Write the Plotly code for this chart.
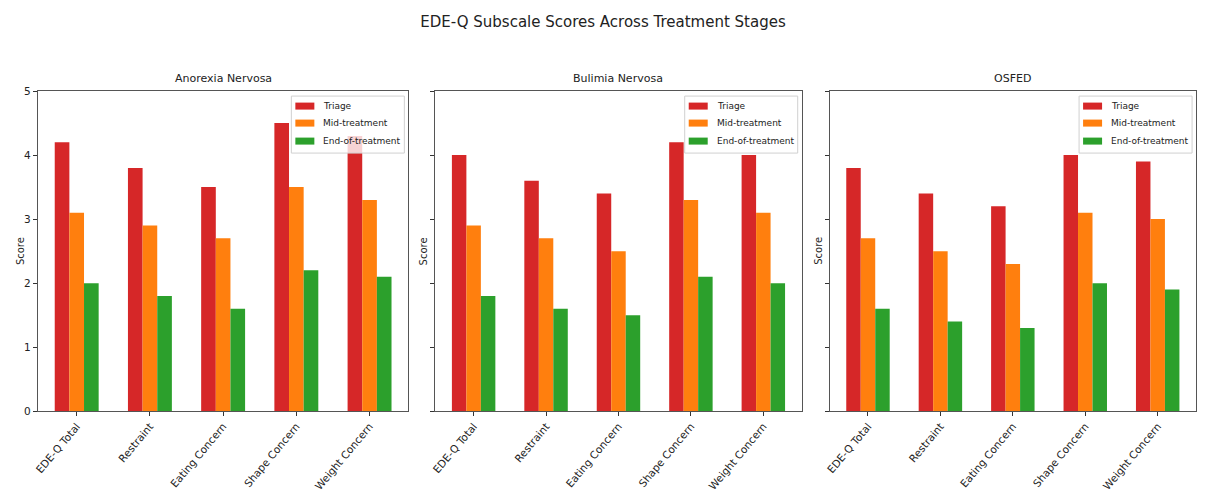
import plotly.graph_objects as go

categories = ["EDE-Q Total", "Restraint", "Eating Concern", "Shape Concern", "Weight Concern"]
panels = ["Anorexia Nervosa", "Bulimia Nervosa", "OSFED"]
stages = ["Triage", "Mid-treatment", "End-of-treatment"]
colors = ["#d62728", "#ff7f0e", "#2ca02c"]

an_triage = [4.2, 3.8, 3.5, 4.5, 4.3]
an_mid = [3.1, 2.9, 2.7, 3.5, 3.3]
an_end = [2.0, 1.8, 1.6, 2.2, 2.1]

bn_triage = [4.0, 3.6, 3.4, 4.2, 4.0]
bn_mid = [2.9, 2.7, 2.5, 3.3, 3.1]
bn_end = [1.8, 1.6, 1.5, 2.1, 2.0]

os_triage = [3.8, 3.4, 3.2, 4.0, 3.9]
os_mid = [2.7, 2.5, 2.3, 3.1, 3.0]
os_end = [1.6, 1.4, 1.3, 2.0, 1.9]

data = [
    [an_triage, an_mid, an_end],
    [bn_triage, bn_mid, bn_end],
    [os_triage, os_mid, os_end],
]

W, H = 1206, 497
OFF = 8  # page body offset
FONT = "DejaVu Sans"


def px(p):
    return (p - OFF) / W


def py(q):
    return 1 - (q - OFF) / H


xpix = [(33, 405), (432, 800), (828, 1196)]
xdomains = [(px(a), px(b)) for a, b in xpix]
ydom = (py(415), py(87))
score_x = [15, 420, 816]

fig = go.Figure()
layout = dict(
    width=W, height=H,
    margin=dict(l=0, r=0, t=0, b=0),
    paper_bgcolor="white", plot_bgcolor="white",
    barmode="group", bargap=0.4, bargroupgap=0,
    showlegend=False,
    font=dict(family=FONT, size=10, color="#222"),
    title=dict(text="EDE-Q Subscale Scores Across Treatment Stages",
               x=px(603), xanchor="center", y=py(22), yanchor="middle",
               font=dict(family=FONT, size=15, color="#222")),
    annotations=[],
    shapes=[],
)

# legend geometry (pixels relative to the top-right corner of each panel)
LEG_BOX = (-117, -4, -5, -62)
LEG_SYM = (-113, -94)
LEG_ROWS = [-15, -32, -50]
LEG_TEXT = -87

for i, panel in enumerate(panels):
    suf = "" if i == 0 else str(i + 1)
    for j, stage in enumerate(stages):
        fig.add_trace(go.Bar(
            x=list(range(len(categories))), y=data[i][j], name=stage,
            marker=dict(color=colors[j], line=dict(width=0)),
            xaxis="x" + suf, yaxis="y" + suf, showlegend=False,
            offsetgroup=str(j),
        ))
    layout["xaxis" + suf] = dict(
        domain=list(xdomains[i]), anchor="y" + suf,
        range=[-0.53, 4.53], tickmode="array",
        tickvals=list(range(len(categories))), ticktext=categories,
        tickangle=-50, ticks="outside", ticklen=4, tickcolor="#333",
        showline=True, linecolor="#555", linewidth=1, mirror=True,
        showgrid=False, zeroline=False,
        tickfont=dict(family=FONT, size=10.5, color="#222"),
    )
    layout["yaxis" + suf] = dict(
        domain=list(ydom), anchor="x" + suf,
        range=[0, 5], dtick=1, ticks="outside", ticklen=4, tickcolor="#333",
        showticklabels=(i == 0),
        showline=True, linecolor="#555", linewidth=1, mirror=True,
        showgrid=False, zeroline=False,
        tickfont=dict(family=FONT, size=10.5, color="#222"),
    )
    layout["annotations"].append(dict(
        text=panel, x=(xdomains[i][0] + xdomains[i][1]) / 2, y=ydom[1],
        xref="paper", yref="paper", xanchor="center", yanchor="bottom",
        yshift=4, showarrow=False, font=dict(family=FONT, size=11, color="#222"),
    ))
    layout["annotations"].append(dict(
        text="Score", x=px(score_x[i]), y=(ydom[0] + ydom[1]) / 2,
        xref="paper", yref="paper", xanchor="center", yanchor="middle",
        textangle=-90, showarrow=False,
        font=dict(family=FONT, size=10, color="#222"),
    ))
    # matplotlib-style legend box
    xr, yr = f"x{suf} domain", f"y{suf} domain"
    layout["shapes"].append(dict(
        type="rect", layer="above",
        xref=xr, xsizemode="pixel", xanchor=1, x0=LEG_BOX[0], x1=LEG_BOX[1],
        yref=yr, ysizemode="pixel", yanchor=1, y0=LEG_BOX[2], y1=LEG_BOX[3],
        fillcolor="rgba(255,255,255,0.8)", line=dict(color="#d0d0d0", width=1),
    ))
    for j, stage in enumerate(stages):
        layout["shapes"].append(dict(
            type="rect", layer="above",
            xref=xr, xsizemode="pixel", xanchor=1, x0=LEG_SYM[0], x1=LEG_SYM[1],
            yref=yr, ysizemode="pixel", yanchor=1,
            y0=LEG_ROWS[j] - 3.5, y1=LEG_ROWS[j] + 3.5,
            fillcolor=colors[j], line=dict(width=0),
        ))
        layout["annotations"].append(dict(
            text=stage, xref=xr, yref=yr, x=1, y=1,
            xshift=LEG_TEXT, yshift=LEG_ROWS[j],
            xanchor="left", yanchor="middle", showarrow=False,
            font=dict(family=FONT, size=9, color="#222"),
        ))

fig.update_layout(**layout)
fig.write_html("out.html")
